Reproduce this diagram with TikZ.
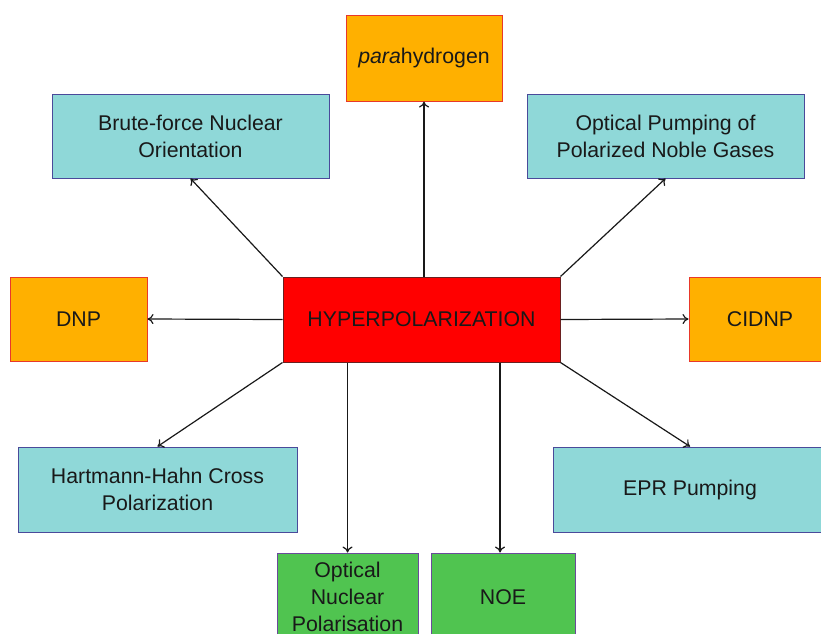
\documentclass[tikz,border=0pt]{standalone}
\usepackage{fontspec}
\setmainfont{Liberation Sans}
\usetikzlibrary{arrows.meta}
\definecolor{cyanbox}{HTML}{8FD8D8}
\definecolor{cyanline}{HTML}{4A4A9A}
\definecolor{orangebox}{HTML}{FFB000}
\definecolor{orangeline}{HTML}{E8382A}
\definecolor{redbox}{HTML}{FF0000}
\definecolor{redline}{HTML}{6A2020}
\definecolor{greenbox}{HTML}{50C450}
\definecolor{greenline}{HTML}{6A4A9A}
\tikzset{
  box/.style={draw, line width=1pt, inner sep=0pt, align=center,
    font=\fontsize{21.3}{27}\selectfont, text=black!90},
  cbox/.style={box, fill=cyanbox, draw=cyanline},
  obox/.style={box, fill=orangebox, draw=orangeline},
  gbox/.style={box, fill=greenbox, draw=greenline},
  rbox/.style={box, fill=redbox, draw=redline},
  conn/.style={draw=black!90, line width=1.2pt, -{To[length=6pt,width=10pt]}}
}
\begin{document}
\begin{tikzpicture}[x=1pt,y=-1pt]
\useasboundingbox (0,0) rectangle (821,633);
\node[rbox, minimum width=277pt, minimum height=85pt] (hyper) at (421.5,319.5) {HYPERPOLARIZATION};
\node[obox, minimum width=156pt, minimum height=86pt] (para) at (424,58) {\textit{para}hydrogen};
\node[cbox, minimum width=277pt, minimum height=84pt] (brute) at (190.5,136) {Brute-force Nuclear\\Orientation};
\node[cbox, minimum width=277pt, minimum height=84pt] (optpump) at (665.5,136) {Optical Pumping of\\Polarized Noble Gases};
\node[obox, minimum width=137pt, minimum height=84pt] (dnp) at (78.5,319) {DNP};
\node[obox, minimum width=142pt, minimum height=84pt] (cidnp) at (760,319) {CIDNP};
\node[cbox, minimum width=279pt, minimum height=85pt] (hartmann) at (157.5,489.5) {Hartmann-Hahn Cross\\Polarization};
\node[cbox, minimum width=274pt, minimum height=85pt] (epr) at (690,489.5) {EPR Pumping};
\node[gbox, minimum width=141pt, minimum height=88pt] (onp) at (347.5,597) {Optical\\Nuclear\\Polarisation};
\node[gbox, minimum width=144pt, minimum height=88pt] (noe) at (503,597) {NOE};
\draw[conn] (hyper.north -| para.south) -- (para.south);
\draw[conn] (hyper.north west) -- (brute.south);
\draw[conn] (hyper.north east) -- (optpump.south);
\draw[conn] (hyper.west) -- (dnp.east);
\draw[conn] (hyper.east) -- (cidnp.west);
\draw[conn] (hyper.south west) -- (hartmann.north);
\draw[conn] (hyper.south east) -- (epr.north);
\draw[conn] (onp.north |- hyper.south) -- (onp.north);
\draw[conn] ([xshift=-3pt]noe.north |- hyper.south) -- ([xshift=-3pt]noe.north);
\end{tikzpicture}
\end{document}
